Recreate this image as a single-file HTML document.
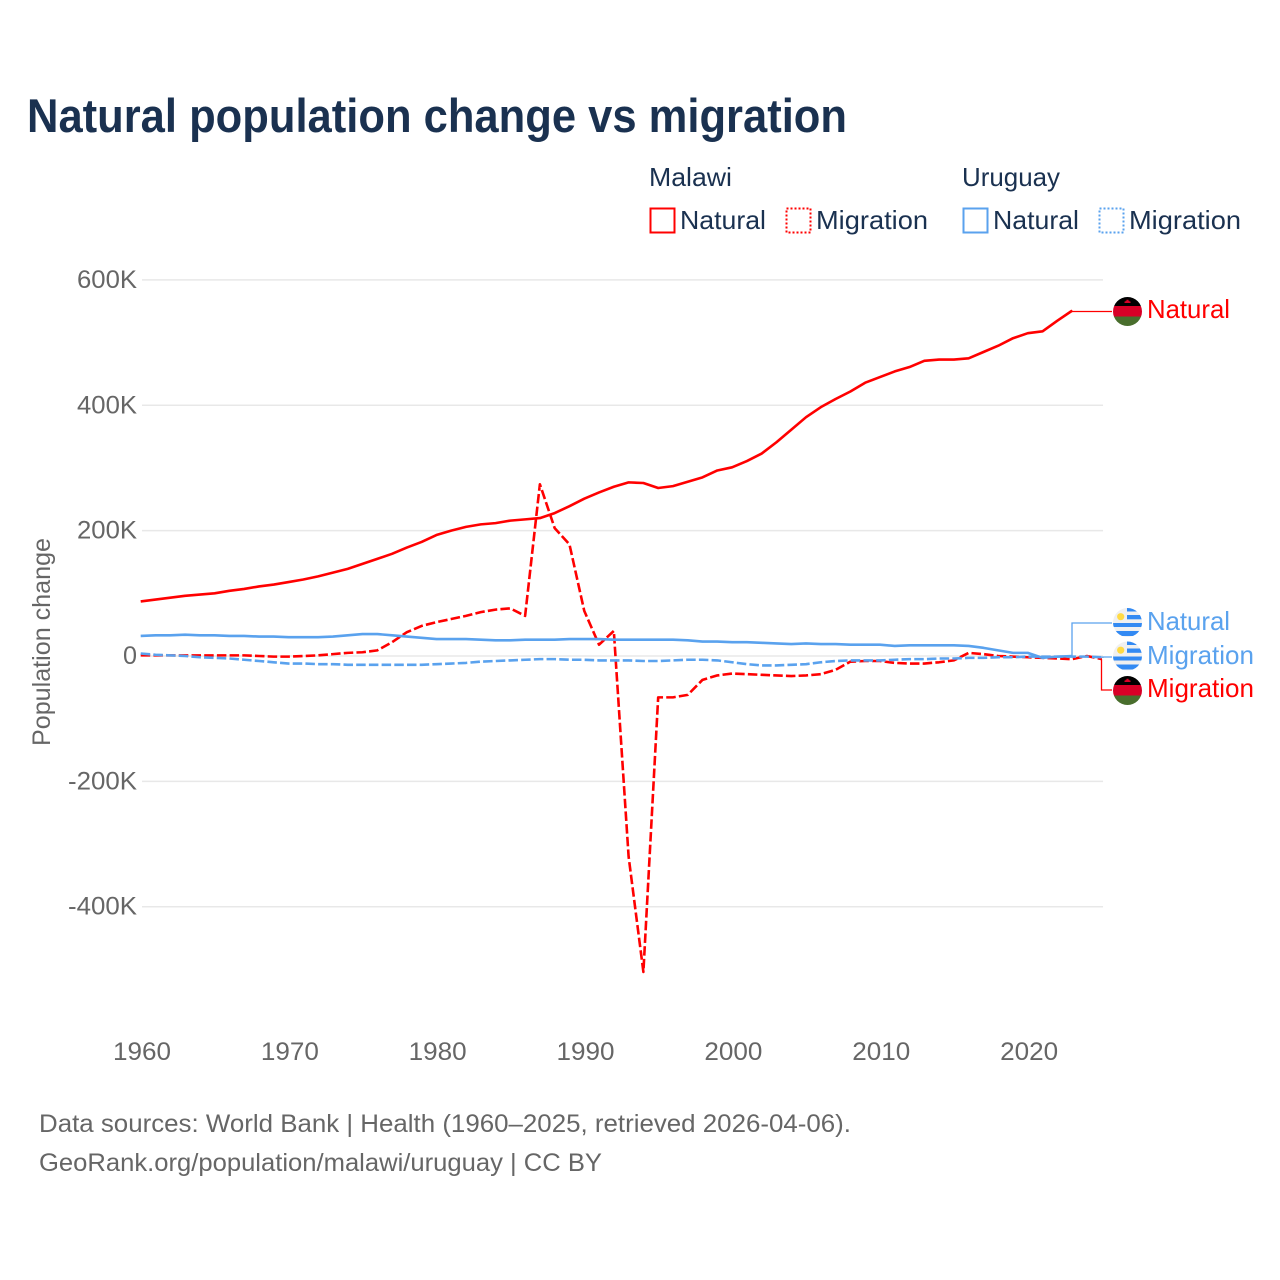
<!DOCTYPE html>
<html lang="en">
<head>
<meta charset="utf-8">
<title>Natural population change vs migration</title>
<style>
html,body{margin:0;padding:0;background:#fff;}
svg{display:block;font-family:"Liberation Sans",sans-serif;}
</style>
</head>
<body>
<svg id="chart" xmlns="http://www.w3.org/2000/svg" width="1280" height="1280" viewBox="0 0 1280 1280">
  <defs>
    <clipPath id="flag-clip"><circle cx="0" cy="0" r="14.5"/></clipPath>
    <g id="flag-mw" clip-path="url(#flag-clip)">
      <rect x="-15" y="-15" width="30" height="9.500" fill="#000"/>
      <rect x="-15" y="-5.500" width="30" height="10.500" fill="#d80027"/>
      <rect x="-15" y="5" width="30" height="10" fill="#496e2d"/>
      <path d="M-3 -8.500v-1.500h1v-.800h1v-1h2v1h1v.800h1v1.500z" fill="#d80027"/>
    </g>
    <g id="flag-uy" clip-path="url(#flag-clip)">
      <rect x="-15" y="-15" width="30" height="30" fill="#f0f0f0"/>
      <rect x="-0.500" y="-15" width="16" height="4" fill="#338af3"/>
      <rect x="-0.500" y="-7.500" width="16" height="4.300" fill="#338af3"/>
      <rect x="-15" y="0.500" width="30" height="4" fill="#338af3"/>
      <rect x="-15" y="8.500" width="30" height="5" fill="#338af3"/>
      <circle cx="-6.800" cy="-5.800" r="3.600" fill="#ffda44"/>
    </g>
  </defs>

  <text x="27" y="132" font-size="47" font-weight="700" fill="#1a3150" textLength="820" lengthAdjust="spacingAndGlyphs">Natural population change vs migration</text>

  <g font-size="26" fill="#1a3150">
    <text x="649" y="186" textLength="83" lengthAdjust="spacingAndGlyphs">Malawi</text>
    <text x="962" y="186" textLength="98" lengthAdjust="spacingAndGlyphs">Uruguay</text>
    <g>
      <rect x="650.500" y="208.500" width="24" height="24" fill="none" stroke="#ff0000" stroke-width="2"/>
      <text x="680" y="229" textLength="86" lengthAdjust="spacingAndGlyphs">Natural</text>
    </g>
    <g>
      <rect x="786.500" y="208.500" width="24" height="24" fill="none" stroke="#ff0000" stroke-width="2" stroke-dasharray="2 2"/>
      <text x="816" y="229" textLength="112" lengthAdjust="spacingAndGlyphs">Migration</text>
    </g>
    <g>
      <rect x="963.500" y="208.500" width="24" height="24" fill="none" stroke="#5aa2ee" stroke-width="2"/>
      <text x="993" y="229" textLength="86" lengthAdjust="spacingAndGlyphs">Natural</text>
    </g>
    <g>
      <rect x="1099.500" y="208.500" width="24" height="24" fill="none" stroke="#5aa2ee" stroke-width="2" stroke-dasharray="2 2"/>
      <text x="1129" y="229" textLength="112" lengthAdjust="spacingAndGlyphs">Migration</text>
    </g>
  </g>

  <text transform="translate(50 642) rotate(-90)" text-anchor="middle" font-size="25" fill="#666" textLength="208" lengthAdjust="spacingAndGlyphs">Population change</text>

  <g id="grid"></g>
  <g id="y-ticks"></g>
  <g id="x-ticks"></g>
  <g id="series"></g>

  <g font-size="26">
    <g>
      <use href="#flag-mw" x="1127.500" y="311.500"/>
      <text x="1147" y="318" fill="#ff0000" textLength="83" lengthAdjust="spacingAndGlyphs">Natural</text>
    </g>
    <g>
      <use href="#flag-uy" x="1127.500" y="622.500"/>
      <text x="1147" y="630" fill="#5aa2ee" textLength="83" lengthAdjust="spacingAndGlyphs">Natural</text>
    </g>
    <g>
      <use href="#flag-uy" x="1127.500" y="656"/>
      <text x="1147" y="664" fill="#5aa2ee" textLength="107" lengthAdjust="spacingAndGlyphs">Migration</text>
    </g>
    <g>
      <use href="#flag-mw" x="1127.500" y="690.500"/>
      <text x="1147" y="697" fill="#ff0000" textLength="107" lengthAdjust="spacingAndGlyphs">Migration</text>
    </g>
  </g>

  <g font-size="25" fill="#666">
    <text x="39" y="1132" textLength="812" lengthAdjust="spacingAndGlyphs">Data sources: World Bank | Health (1960–2025, retrieved 2026-04-06).</text>
    <text x="39" y="1171" textLength="563" lengthAdjust="spacingAndGlyphs">GeoRank.org/population/malawi/uruguay | CC BY</text>
  </g>
</svg>
<script>
const firstYear = 1960;
const yTickValues = [600, 400, 200, 0, -200, -400];
const yTickLabels = ["600K", "400K", "200K", "0", "-200K", "-400K"];
const xTickValues = [1960, 1970, 1980, 1990, 2000, 2010, 2020];
const xTickLabels = ["1960", "1970", "1980", "1990", "2000", "2010", "2020"];

const malawiNatural = [87,90,93,96,98,100,104,107,111,114,118,122,127,133,139,147,155,163,173,182,193,200,206,210,212,216,218,220,228,239,251,261,270,277,276,268,271,278,285,296,301,311,323,341,361,381,397,410,422,436,445,454,461,471,473,473,475,485,495,507,515,518,535,551];
const malawiMigration = [1,1,1,1,1,1,1,1,0,-1,-1,0,1,3,5,6,9,22,38,48,54,59,64,70,74,76,64,274,204,178,72,18,40,-320,-504,-66,-66,-62,-38,-31,-28,-29,-30,-31,-32,-31,-29,-22,-9,-8,-8,-11,-12,-12,-10,-7,5,3,0,-1,-2,-3,-4,-5,0,-5];
const uruguayNatural = [32,33,33,34,33,33,32,32,31,31,30,30,30,31,33,35,35,33,31,29,27,27,27,26,25,25,26,26,26,27,27,27,26,26,26,26,26,25,23,23,22,22,21,20,19,20,19,19,18,18,18,16,17,17,17,17,16,13,9,5,5,-3,-1,0];
const uruguayMigration = [4,2,1,0,-2,-3,-4,-6,-8,-10,-12,-12,-13,-13,-14,-14,-14,-14,-14,-14,-13,-12,-11,-9,-8,-7,-6,-5,-5,-6,-6,-7,-7,-7,-8,-8,-7,-6,-6,-7,-10,-13,-15,-15,-14,-13,-10,-8,-7,-7,-7,-6,-5,-5,-4,-4,-3,-3,-2,-2,-1,-1,-1,-1,-1,-2];

const svgNS = "http://www.w3.org/2000/svg";
const xScale = function (year) { return 142 + (year - firstYear) * 14.785; };
const seriesX = function (year) { return xScale(year) - 1.3; };
const yScale = function (value) { return 656 - value * 0.6268; };

const grid = document.getElementById("grid");
const yTicks = document.getElementById("y-ticks");
const xTicks = document.getElementById("x-ticks");
const seriesGroup = document.getElementById("series");

yTickValues.forEach(function (v, i) {
  const line = document.createElementNS(svgNS, "line");
  
  
  line.setAttribute("x1", 142);
  line.setAttribute("x2", xScale(2025));
  line.setAttribute("y1", yScale(v));
  line.setAttribute("y2", yScale(v));
  line.setAttribute("stroke", "#e8e8e8");
  line.setAttribute("stroke-width", "1.500");
  grid.appendChild(line);

  const t = document.createElementNS(svgNS, "text");
  
  
  t.setAttribute("x", 137);
  t.setAttribute("y", yScale(v) + 8);
  t.setAttribute("text-anchor", "end");
  t.setAttribute("font-size", "25");
  t.setAttribute("fill", "#666");
  const label = yTickLabels[i];
  const w = label === "0" ? 14 : (label[0] === "-" ? 69 : 60);
  t.setAttribute("textLength", w);
  t.setAttribute("lengthAdjust", "spacingAndGlyphs");
  t.textContent = label;
  yTicks.appendChild(t);
});

xTickValues.forEach(function (v, i) {
  const t = document.createElementNS(svgNS, "text");
  
  
  t.setAttribute("x", xScale(v));
  t.setAttribute("y", 1060);
  t.setAttribute("text-anchor", "middle");
  t.setAttribute("font-size", "25");
  t.setAttribute("fill", "#666");
  t.setAttribute("textLength", 58);
  t.setAttribute("lengthAdjust", "spacingAndGlyphs");
  t.textContent = xTickLabels[i];
  xTicks.appendChild(t);
});

function linePath(values) {
  return values.map(function (v, i) {
    return (i ? "L" : "M") + seriesX(firstYear + i).toFixed(2) + " " + yScale(v).toFixed(2);
  }).join(" ");
}

function endOf(values) {
  const last = values.length - 1;
  return [seriesX(firstYear + last), yScale(values[last])];
}

function addLeader(values, labelY, color, elbowX) {
  const e = endOf(values);
  const leader = document.createElementNS(svgNS, "path");
  
  
  leader.setAttribute("d", "M" + e[0] + " " + e[1] + " L" + elbowX + " " + e[1] + " L" + elbowX + " " + labelY + " L1112 " + labelY);
  leader.setAttribute("fill", "none");
  leader.setAttribute("stroke", color);
  leader.setAttribute("stroke-width", "1.300");
  seriesGroup.appendChild(leader);
}

addLeader(malawiNatural, 311.500, "#ff0000", 1072);
addLeader(uruguayNatural, 623, "#5aa2ee", 1072);
addLeader(malawiMigration, 690, "#ff0000", 1101.500);
addLeader(uruguayMigration, 657, "#5aa2ee", 1103);

function addSeries(values, color, dashed, name) {
  const p = document.createElementNS(svgNS, "path");
  
  
  p.setAttribute("d", linePath(values));
  p.setAttribute("fill", "none");
  p.setAttribute("stroke", color);
  p.setAttribute("stroke-width", "2.600");
  p.setAttribute("stroke-linejoin", "round");
  if (dashed) {
    p.setAttribute("stroke-dasharray", "9.500 3.200");
  }
  seriesGroup.appendChild(p);
}

addSeries(malawiNatural, "#ff0000", false, "line-malawi-natural");
addSeries(malawiMigration, "#ff0000", true, "line-malawi-migration");
addSeries(uruguayNatural, "#5aa2ee", false, "line-uruguay-natural");
addSeries(uruguayMigration, "#5aa2ee", true, "line-uruguay-migration");
</script>
</body>
</html>
